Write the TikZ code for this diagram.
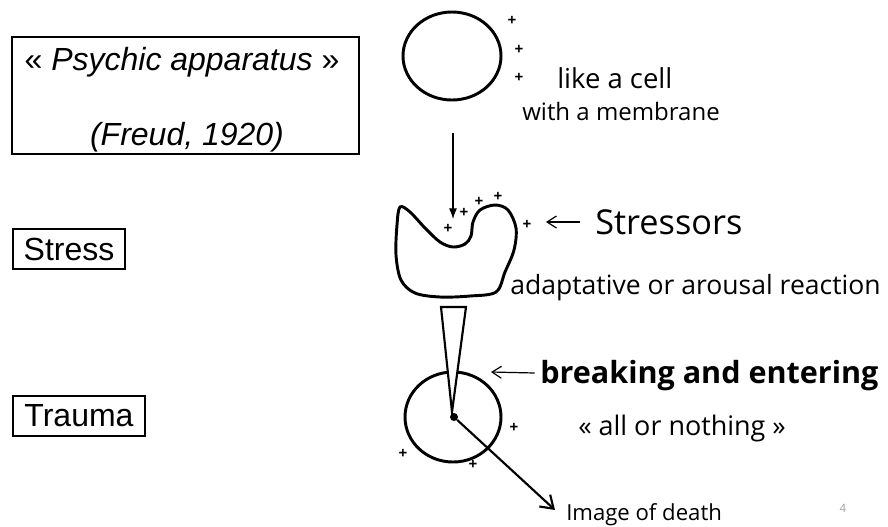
\documentclass[tikz,border=0pt]{standalone}
\usepackage{fontspec}
\setmainfont{Liberation Sans}
\newfontfamily\arialf{Liberation Sans}
\newfontfamily\handf{Open Sans}
\usetikzlibrary{arrows.meta}
\tikzset{
  label box/.style={draw, line width=1.5pt, inner sep=0pt, font=\arialf\fontsize{24}{28}\selectfont},
  cell/.style={line width=2.2pt},
  hand/.style={inner sep=0pt, font=\handf\fontsize{#1}{#1}\selectfont},
  hand/.default=18,
  charge/.style={inner sep=0pt, font=\handf\bfseries\fontsize{11.5}{11.5}\selectfont},
  pointer/.style={line width=0.9pt, -{Straight Barb[length=7pt,width=9pt,line width=0.9pt]}},
}
\begin{document}
\begin{tikzpicture}[x=0.75pt, y=-0.75pt]
\useasboundingbox (0,0) rectangle (888,526);

% Left-hand labels
\draw[line width=1.5pt] (12,37) rectangle (359,154);
\node[inner sep=0pt, font=\arialf\fontsize{24}{28}\selectfont] (psy) at (182,62) {« \textit{Psychic apparatus} »};
\node[inner sep=0pt, font=\arialf\itshape\fontsize{24}{28}\selectfont] (freud) at (187,137) {(Freud, 1920)};
\node[label box, minimum width=84pt, minimum height=30pt] (stress) at (69,249) {Stress};
\node[label box, minimum width=99pt, minimum height=30pt] (trauma) at (79,416) {Trauma};

% Resting cell
\draw[cell] (452,56) ellipse [x radius=49, y radius=44];
\node[charge] (c1) at (512,21) {+};
\node[charge] (c2) at (519,50) {+};
\node[charge] (c3) at (519,78) {+};
\node[hand=20.6, anchor=west] (like) at (557,78) {like a cell};
\node[hand=18, anchor=west] (memb) at (522,111) {with a membrane};

% Incoming pressure
\coordinate (src) at (453,133);
\coordinate (dent) at (453,219);
\draw[line width=0.8pt, -{Latex[length=8pt,width=6pt]}] (src) -- (dent);

% Deformed cell under stress
\draw[cell] plot[smooth cycle, tension=0.55] coordinates {
  (400,207) (410,212) (425,228) (440,242) (453,247) (465,244) (471,236)
  (473,222) (480,210) (495,205) (508,210) (516,228) (514,250) (505,272)
  (496,292) (470,296) (440,297) (415,293) (401,280) (396,255) (397,225)};
\node[charge] (s1) at (448,229) {+};
\node[charge] (s2) at (464,213) {+};
\node[charge] (s3) at (479,202) {+};
\node[charge] (s4) at (498,197) {+};
\node[charge] (s5) at (527,225) {+};
\node[hand=25.7, anchor=west] (stressors) at (595,222) {Stressors};
\coordinate (stressorsTip) at (546,222);
\draw[pointer] (stressors.west) ++(-11pt,0) -- (stressorsTip);
\node[hand=19.9, anchor=west] (adapt) at (510,288) {adaptative or arousal reaction};

% Wedge and ruptured cell
\draw[cell] (453,417) ellipse [x radius=48, y radius=45];
\draw[line width=1.6pt, fill=white, line join=miter] (441,307) -- (466,307) -- (452,412) -- cycle;
\node[circle, fill, inner sep=0pt, minimum size=6pt] (core) at (454,417) {};
\node[charge] (t1) at (514,428) {+};
\node[charge] (t2) at (403,454) {+};
\node[charge] (t3) at (473,465) {+};
\node[inner sep=0pt, font=\handf\bfseries\fontsize{22.9}{22.9}\selectfont, anchor=west] (breaking) at (540,376) {breaking and entering};
\coordinate (breakTip) at (491,372);
\draw[pointer] (breaking.west) ++(-4pt,-3) -- (breakTip);
\node[hand=20.2, anchor=west] (allnot) at (578,428) {« all or nothing »};
\node[hand=16.6, anchor=west] (death) at (566,515) {Image of death};
\coordinate (deathTip) at (555,510);
\draw[line width=1.6pt, -{Straight Barb[length=9pt,width=12pt,line width=1.6pt]}] (core) -- (deathTip);

% Page number
\node[inner sep=0pt, text=gray!70, font=\arialf\fontsize{9}{9}\selectfont] (pg) at (843,508) {4};
\end{tikzpicture}
\end{document}
